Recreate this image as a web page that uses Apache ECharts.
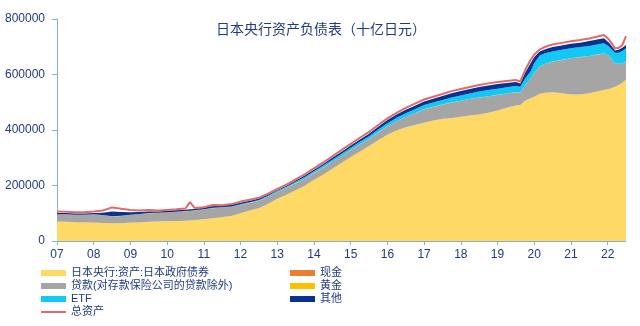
<!DOCTYPE html>
<html>
<head>
<meta charset="utf-8">
<script src="https://cdn.jsdelivr.net/npm/echarts@6/dist/echarts.min.js"></script>
<style>
  html, body { margin: 0; padding: 0; background: #fff; }
  #chart { width: 640px; height: 326px; }
</style>
</head>
<body>
<div id="chart"></div>
<script>
// 日本央行资产负债表, 单位: 十亿日元
const dates = [2007.00,2007.25,2007.50,2007.75,2008.00,2008.25,2008.50,2008.75,2009.00,2009.25,2009.50,2009.75,
  2010.00,2010.25,2010.50,2010.62,2010.75,2011.00,2011.25,2011.50,2011.75,2012.00,2012.25,2012.50,2012.75,
  2013.00,2013.25,2013.50,2013.75,2014.00,2014.25,2014.50,2014.75,2015.00,2015.25,2015.50,2015.75,
  2016.00,2016.25,2016.50,2016.75,2017.00,2017.25,2017.50,2017.75,2018.00,2018.25,2018.50,2018.75,
  2019.00,2019.25,2019.50,2019.62,2019.75,2019.90,2020.00,2020.15,2020.30,2020.50,2020.75,
  2021.00,2021.25,2021.50,2021.75,2021.90,2022.05,2022.20,2022.30,2022.40,2022.50];

const jgb = [70000,69000,68000,67000,66000,65000,64000,64000,66000,67000,69000,70000,
  71000,72000,73000,74000,75000,78000,82000,86000,90000,100000,110000,118000,134000,
  152000,166000,183000,199000,220000,239000,260000,281000,302000,322000,342000,363000,
  383000,398000,410000,418000,426000,434000,440000,443000,447000,452000,456000,462000,
  470000,480000,488000,490000,505000,514000,520000,530000,534000,536000,532000,
  528000,528000,532000,540000,544000,548000,556000,562000,570000,582000];

const cash = [300,300,300,300,300,300,300,300,300,300,300,300,
  300,300,300,300,300,300,300,300,300,300,300,300,300,
  300,300,300,300,300,300,300,300,300,300,300,300,
  300,300,300,300,300,300,300,300,300,300,300,300,
  300,300,300,300,300,300,300,300,300,300,300,
  300,300,300,300,300,300,300,300,300,300];

const loans = [26000,27000,26000,27000,30000,28000,24000,26000,28000,30000,31000,31000,
  32000,33000,34000,34000,35000,35000,36000,34000,33000,30000,27000,26000,25000,
  24000,24000,25000,25000,25000,25000,25000,25000,25000,26000,26000,28000,
  30000,33000,37000,42000,48000,49000,51000,56000,58000,60000,60000,59000,
  56000,51000,48000,45000,55000,71000,85000,98000,104000,110000,120000,
  130000,134000,134000,132000,132000,118000,84000,76000,70000,64000];

const gold = [441,441,441,441,441,441,441,441,441,441,441,441,
  441,441,441,441,441,441,441,441,441,441,441,441,441,
  441,441,441,441,441,441,441,441,441,441,441,441,
  441,441,441,441,441,441,441,441,441,441,441,441,
  441,441,441,441,441,441,441,441,441,441,441,
  441,441,441,441,441,441,441,441,441,441];

const etf = [0,0,0,0,0,0,0,0,0,0,0,0,
  0,0,0,0,0,1000,1000,1000,1000,2000,2000,3000,3000,
  4000,5000,5000,6000,6000,7000,7000,8000,8000,9000,9000,10000,
  11000,12000,13000,14000,15000,15000,16000,17000,19000,19000,22000,22000,
  22000,22000,22000,20000,25000,25000,35000,40000,38000,36000,36000,
  36000,36000,36000,36000,36000,32000,38000,40000,44000,48000];

const other = [4000,4000,4000,4000,4000,8000,18000,14000,9000,7000,6000,5000,
  5000,5000,5000,6000,5000,5000,6000,6000,6000,5000,5000,5000,5000,
  3000,3000,4000,5000,5000,6000,7000,7000,8000,8000,9000,10000,
  11000,12000,12000,13000,13000,14000,15000,16000,16000,16000,16000,17000,
  17000,16000,14000,12000,20000,30000,22000,14000,14000,16000,16000,
  16000,16000,18000,18000,18000,14000,8000,10000,12000,12000];

const total = [106000,105000,104000,104000,106000,110000,121000,116000,112000,110000,112000,110000,
  112000,114000,117000,140000,119000,122000,130000,129000,133000,142000,149000,156000,171000,
  188000,203000,222000,240000,262000,283000,305000,328000,350000,372000,393000,418000,
  442000,462000,480000,495000,510000,520000,530000,540000,548000,555000,562000,568000,
  573000,577000,580000,575000,615000,652000,672000,690000,700000,708000,714000,
  720000,724000,730000,738000,742000,724000,694000,696000,706000,738000];

const yearTicks = [2007,2008,2009,2010,2011,2012,2013,2014,2015,2016,2017,2018,2019,2020,2021,2022];

const names = {
  jgb: '日本央行:资产:日本政府债券',
  cash: '现金',
  loans: '贷款(对存款保险公司的贷款除外)',
  gold: '黄金',
  etf: 'ETF',
  other: '其他',
  total: '总资产'
};

const TEXT = '#1F3A86';
const AXIS = '#7FB0DE';

// value first, year second: echarts stacks the first numeric dimension,
// so with [year, value] it would stack the years instead of the amounts
function rows(values) {
  return dates.map((d, i) => [values[i], d]);
}

function areaSeries(name, values, color) {
  return {
    name: name,
    type: 'line',
    stack: 'assets',
    symbol: 'none',
    encode: { x: 1, y: 0 },
    data: rows(values),
    lineStyle: { width: 0 },
    itemStyle: { color: color },
    areaStyle: { color: color, opacity: 1 },
    emphasis: { disabled: true }
  };
}

const chart = echarts.init(document.getElementById('chart'));

const option = {
  animation: false,
  textStyle: { fontFamily: 'Liberation Sans, Noto Sans CJK SC, sans-serif' },
  title: {
    text: '日本央行资产负债表（十亿日元）',
    left: 211,
    top: 18,
    textStyle: { color: TEXT, fontSize: 14, fontWeight: 'normal' }
  },
  grid: { left: 57, right: 14, top: 19, bottom: 85 },
  xAxis: {
    type: 'value',
    min: 2007,
    max: 2022.5,
    interval: 1,
    splitLine: { show: false },
    axisLine: { lineStyle: { color: AXIS } },
    axisTick: { length: 4, lineStyle: { color: AXIS }, customValues: yearTicks },
    axisLabel: {
      color: TEXT,
      fontSize: 12,
      margin: 8,
      customValues: yearTicks,
      formatter: (v) => String(v).slice(2)
    }
  },
  yAxis: {
    type: 'value',
    min: 0,
    max: 800000,
    interval: 200000,
    splitLine: { show: false },
    axisLine: { show: true, lineStyle: { color: AXIS } },
    axisTick: { show: true, length: 5, lineStyle: { color: AXIS } },
    axisLabel: { color: TEXT, fontSize: 12, margin: 12, formatter: (v) => String(v) }
  },
  legend: [
    {
      orient: 'vertical',
      left: 35,
      top: 262,
      itemWidth: 25,
      itemHeight: 6,
      itemGap: 1,
      textStyle: { color: TEXT, fontSize: 11, lineHeight: 12 },
      data: [
        { name: names.jgb, icon: 'rect' },
        { name: names.loans, icon: 'rect' },
        { name: names.etf, icon: 'rect' },
        { name: names.total, itemStyle: { color: 'rgba(0,0,0,0)', borderWidth: 0 } }
      ]
    },
    {
      orient: 'vertical',
      left: 285,
      top: 262,
      itemWidth: 25,
      itemHeight: 6,
      itemGap: 1,
      textStyle: { color: TEXT, fontSize: 11, lineHeight: 12 },
      data: [
        { name: names.cash, icon: 'rect' },
        { name: names.gold, icon: 'rect' },
        { name: names.other, icon: 'rect' }
      ]
    }
  ],
  series: [
    areaSeries(names.jgb, jgb, '#FFD966'),
    areaSeries(names.cash, cash, '#ED7D31'),
    areaSeries(names.loans, loans, '#A5A5A5'),
    areaSeries(names.gold, gold, '#FFC000'),
    areaSeries(names.etf, etf, '#12C8F5'),
    areaSeries(names.other, other, '#063391'),
    {
      name: names.total,
      type: 'line',
      symbol: 'none',
      z: 5,
      encode: { x: 1, y: 0 },
      data: rows(total),
      lineStyle: { width: 2, color: '#E46A6A' },
      itemStyle: { color: '#E46A6A' },
      emphasis: { disabled: true }
    }
  ]
};

chart.setOption(option);
</script>
</body>
</html>
